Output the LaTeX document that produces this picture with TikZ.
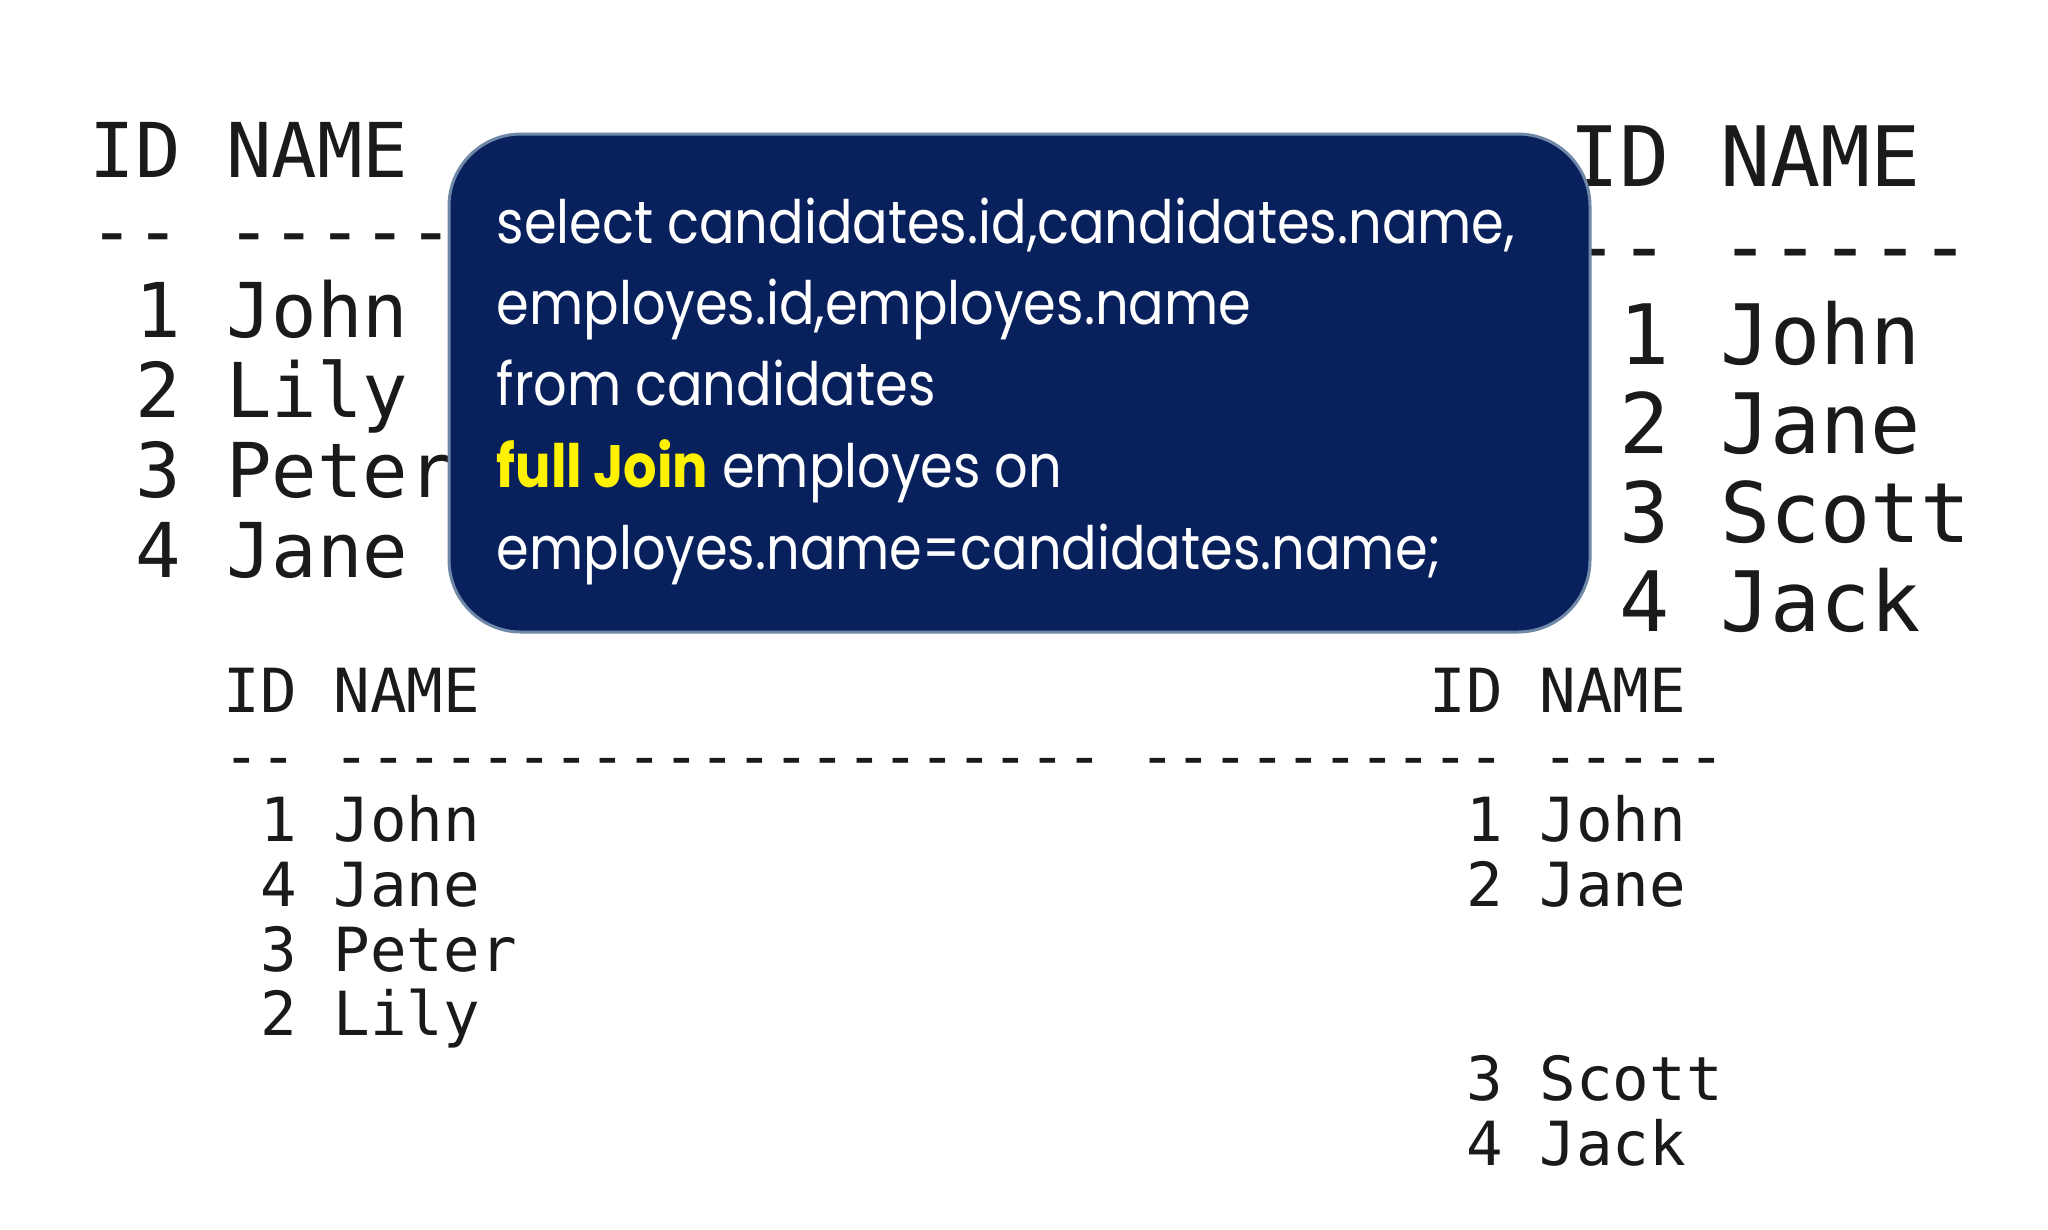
\documentclass[tikz,border=0pt]{standalone}
\usepackage{fontspec}
\setmonofont{DejaVu Sans Mono}
\newfontfamily\boxfont[FakeStretch=0.88]{Poppins}
\definecolor{navy}{HTML}{08205C}
\definecolor{ink}{HTML}{1A1A1A}
\definecolor{edge}{HTML}{7088A8}
\newcommand\ph{\hphantom{0}}
\begin{document}
\begin{tikzpicture}[x=0.01cm,y=-0.01cm,
  tl/.style={anchor=base west,inner sep=0,text=ink,font=\ttfamily\fontsize{21.5}{22}\selectfont},
  tr/.style={anchor=base west,inner sep=0,text=ink,font=\ttfamily\fontsize{23.7}{24}\selectfont},
  bt/.style={anchor=base west,inner sep=0,text=ink,font=\ttfamily\fontsize{17.3}{17}\selectfont},
  sq/.style={anchor=base west,inner sep=0,text=white,font=\boxfont\fontsize{17}{17}\selectfont}]
\useasboundingbox[fill=white] (0,0) rectangle (2048,1229);
% top-left table
\node[tl] (l0) at (89,177) {ID NAME};
\node[tl] (l1) at (89,257) {-\kern0pt- -\kern0pt-\kern0pt-\kern0pt-\kern0pt-};
\node[tl] (l2) at (89,337) {\ph1 John};
\node[tl] (l3) at (89,417) {\ph2 Lily};
\node[tl] (l4) at (89,497) {\ph3 Peter};
\node[tl] (l5) at (89,577) {\ph4 Jane};
% top-right table
\node[tr] (r0) at (1569,186) {ID NAME};
\node[tr] (r1) at (1569,275) {-\kern0pt- -\kern0pt-\kern0pt-\kern0pt-\kern0pt-};
\node[tr] (r2) at (1569,364) {\ph1 John};
\node[tr] (r3) at (1569,453) {\ph2 Jane};
\node[tr] (r4) at (1569,542) {\ph3 Scott};
\node[tr] (r5) at (1569,631) {\ph4 Jack};
% query box
\draw[edge,line width=0.03cm,fill=navy,rounded corners=0.72cm] (449,134) rectangle (1590,632);
\node[sq] (q1) at (496,243) {select candidates.id,candidates.name,};
\node[sq] (q2) at (496,324) {employes.id,employes.name};
\node[sq] (q3) at (496,405) {from candidates};
\node[sq] (q4) at (496,487) {{\color{yellow}\bfseries full Join} employes on};
\node[sq] (q5) at (496,569) {employes.name=candidates.name;};
% bottom result
\node[bt] (b0) at (223,712) {ID NAME};
\node[bt] (b1) at (223,777) {-\kern0pt- \foreach\i in {1,...,21}{-\kern0pt}\ \foreach\i in {1,...,10}{-\kern0pt}\ \foreach\i in {1,...,5}{-\kern0pt}};
\node[bt] (b2) at (223,841) {\ph1 John};
\node[bt] (b3) at (223,906) {\ph4 Jane};
\node[bt] (b4) at (223,971) {\ph3 Peter};
\node[bt] (b5) at (223,1035) {\ph2 Lily};
\node[bt] (c0) at (1429,712) {ID NAME};
\node[bt] (c2) at (1429,841) {\ph1 John};
\node[bt] (c3) at (1429,906) {\ph2 Jane};
\node[bt] (c6) at (1429,1100) {\ph3 Scott};
\node[bt] (c7) at (1429,1165) {\ph4 Jack};
\end{tikzpicture}
\end{document}
